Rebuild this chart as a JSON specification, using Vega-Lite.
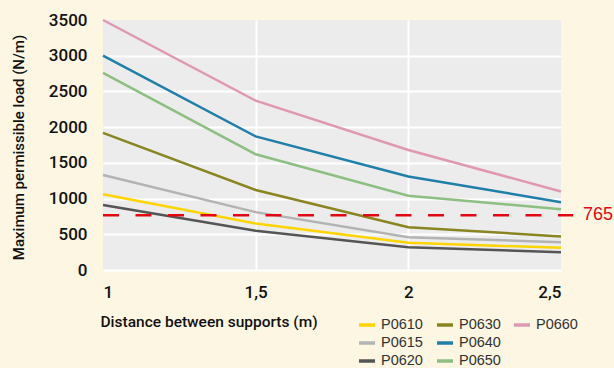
{
  "$schema": "https://vega.github.io/schema/vega-lite/v6.json",
  "autosize": {"type": "none"},
  "width": 458,
  "height": 250,
  "padding": {"left": 103, "top": 20, "right": 53, "bottom": 98},
  "background": "#fdf6e2",
  "config": {
    "view": {"fill": "#ececec", "stroke": null},
    "font": "Roboto",
    "axis": {"labelColor": "#111111", "titleColor": "#111111", "domain": false, "ticks": false, "gridColor": "#ffffff", "gridWidth": 2, "gridOpacity": 1},
    "legend": {"symbolType": "stroke", "symbolSize": 256, "symbolStrokeWidth": 3.5, "labelFontSize": 14.5, "labelFont": "Liberation Sans", "labelColor": "#333333", "rowPadding": 1, "labelOffset": 4, "orient": "none", "direction": "vertical", "padding": 0}
  },
  "data": {
    "values": [
      {"d": 1, "load": 1060, "series": "P0610"},
      {"d": 1.5, "load": 650, "series": "P0610"},
      {"d": 2, "load": 380, "series": "P0610"},
      {"d": 2.5, "load": 310, "series": "P0610"},
      {"d": 1, "load": 1330, "series": "P0615"},
      {"d": 1.5, "load": 810, "series": "P0615"},
      {"d": 2, "load": 460, "series": "P0615"},
      {"d": 2.5, "load": 390, "series": "P0615"},
      {"d": 1, "load": 910, "series": "P0620"},
      {"d": 1.5, "load": 550, "series": "P0620"},
      {"d": 2, "load": 320, "series": "P0620"},
      {"d": 2.5, "load": 250, "series": "P0620"},
      {"d": 1, "load": 1920, "series": "P0630"},
      {"d": 1.5, "load": 1120, "series": "P0630"},
      {"d": 2, "load": 600, "series": "P0630"},
      {"d": 2.5, "load": 470, "series": "P0630"},
      {"d": 1, "load": 3000, "series": "P0640"},
      {"d": 1.5, "load": 1870, "series": "P0640"},
      {"d": 2, "load": 1310, "series": "P0640"},
      {"d": 2.5, "load": 950, "series": "P0640"},
      {"d": 1, "load": 2760, "series": "P0650"},
      {"d": 1.5, "load": 1620, "series": "P0650"},
      {"d": 2, "load": 1040, "series": "P0650"},
      {"d": 2.5, "load": 850, "series": "P0650"},
      {"d": 1, "load": 3500, "series": "P0660"},
      {"d": 1.5, "load": 2370, "series": "P0660"},
      {"d": 2, "load": 1680, "series": "P0660"},
      {"d": 2.5, "load": 1100, "series": "P0660"}
    ]
  },
  "encoding": {
    "x": {
      "field": "d", "type": "quantitative",
      "scale": {"domain": [1, 2.5], "nice": false, "zero": false},
      "axis": {
        "values": [1, 1.5, 2, 2.5],
        "labelExpr": "replace(format(datum.value, '~g'), '.', ',')",
        "labelFontSize": 17, "labelPadding": 14, "labelFontWeight": 500,
        "gridOpacity": {"condition": {"test": "datum.value == 1 || datum.value == 2.5", "value": 0}, "value": 1},
        "title": "Distance between supports (m)",
        "titleFontSize": 15.5, "titleFontWeight": 500,
        "titleAnchor": "start", "titleAlign": "left", "titleBaseline": "alphabetic",
        "titleX": -3, "titleY": 56
      }
    },
    "y": {
      "field": "load", "type": "quantitative",
      "scale": {"domain": [0, 3500], "nice": false},
      "axis": {
        "values": [0, 500, 1000, 1500, 2000, 2500, 3000, 3500],
        "format": "d",
        "labelFontSize": 17, "labelPadding": 16, "labelFontWeight": 500,
        "gridOpacity": {"condition": {"test": "datum.value == 3500", "value": 0}, "value": 1},
        "title": "Maximum permissible load (N/m)",
        "titleFontSize": 15, "titleFontWeight": 500,
        "titleX": -85, "titleY": 127, "titleBaseline": "middle", "titleAlign": "center"
      }
    }
  },
  "layer": [
    {
      "transform": [{"filter": "indexof(['P0610','P0615','P0620'], datum.series) >= 0"}],
      "mark": {"type": "line", "strokeWidth": 2.5},
      "encoding": {
        "color": {"field": "series", "type": "nominal",
          "scale": {"domain": ["P0610", "P0615", "P0620"], "range": ["#ffd400", "#b3b3b3", "#555555"]},
          "legend": {"title": null, "legendX": 254, "legendY": 295}}
      }
    },
    {
      "transform": [{"filter": "indexof(['P0630','P0640','P0650'], datum.series) >= 0"}],
      "mark": {"type": "line", "strokeWidth": 2.5},
      "encoding": {
        "color": {"field": "series", "type": "nominal",
          "scale": {"domain": ["P0630", "P0640", "P0650"], "range": ["#8a8421", "#1f7fa8", "#8dbf82"]},
          "legend": {"title": null, "legendX": 332, "legendY": 295}}
      }
    },
    {
      "transform": [{"filter": "datum.series == 'P0660'"}],
      "mark": {"type": "line", "strokeWidth": 2.5},
      "encoding": {
        "color": {"field": "series", "type": "nominal",
          "scale": {"domain": ["P0660"], "range": ["#e098b2"]},
          "legend": {"title": null, "legendX": 409, "legendY": 295}}
      }
    },
    {
      "data": {"values": [{"x1": 1, "x2": 2.54, "v": 765}]},
      "mark": {"type": "rule", "color": "#e30613", "strokeWidth": 2.5, "strokeDash": [16, 16.5]},
      "encoding": {
        "x": {"field": "x1", "type": "quantitative"},
        "x2": {"field": "x2"},
        "y": {"field": "v", "type": "quantitative"},
        "color": null
      }
    },
    {
      "data": {"values": [{"x": 2.5, "v": 765, "label": "765"}]},
      "mark": {"type": "text", "color": "#e30613", "fontSize": 18, "align": "left", "baseline": "middle", "dx": 22, "font": "Liberation Sans"},
      "encoding": {
        "x": {"field": "x", "type": "quantitative"},
        "y": {"field": "v", "type": "quantitative"},
        "text": {"field": "label"}
      }
    }
  ],
  "resolve": {"scale": {"color": "independent"}, "legend": {"color": "independent"}}
}
